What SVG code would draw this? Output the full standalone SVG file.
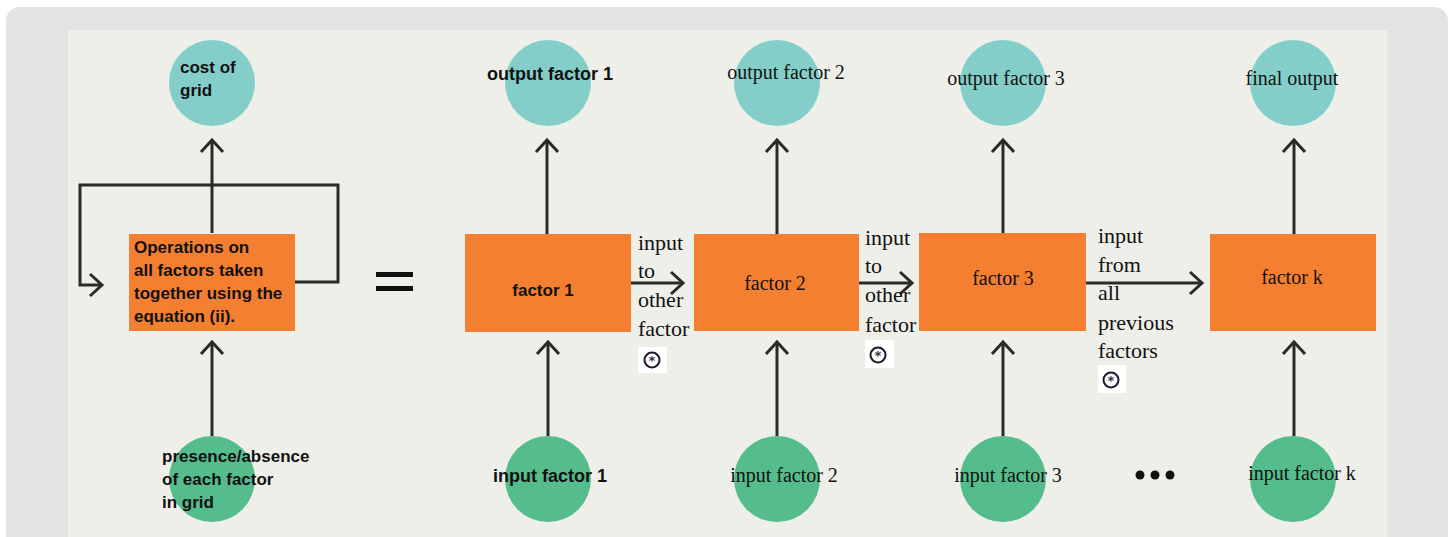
<svg xmlns="http://www.w3.org/2000/svg" width="1449" height="537" viewBox="0 0 1449 537">
<defs>
<style>
.out{fill:#84cec9}
.inp{fill:#55bd8c}
.box{fill:#f47f30}
.sb{font-family:"Liberation Sans",Arial,sans-serif;font-weight:bold;font-size:17px;fill:#111}
.sr{font-family:"Liberation Serif","Times New Roman",serif;font-size:20px;fill:#111}
.lb{font-family:"Liberation Serif","Times New Roman",serif;font-size:22px;fill:#111}
.c{text-anchor:middle}
.ln{fill:none;stroke:#2a2a2a;stroke-width:3}
.ring{fill:none;stroke:#1a1a2a;stroke-width:2}
.ast{font-family:"DejaVu Sans",sans-serif;font-size:13px;font-weight:bold;fill:#333;text-anchor:middle}
</style>
<marker id="ah" markerUnits="userSpaceOnUse" markerWidth="32" markerHeight="32" viewBox="0 0 32 32" refX="16" refY="16" orient="auto">
<path d="M4,5 L16,16 L4,27" fill="none" stroke="#2a2a2a" stroke-width="3"/>
</marker>
</defs>
<rect x="0" y="0" width="1449" height="537" fill="#ffffff"/>
<rect x="6" y="7" width="1442" height="560" rx="14" fill="#e3e3e3"/>
<rect x="68" y="30" width="1319" height="520" fill="#efefea"/>

<g id="connectors">
<path class="ln" d="M212,233 L212,140" marker-end="url(#ah)"/>
<path class="ln" d="M295,282 L338,282 L338,185 L80,185 L80,285 L102,285" marker-end="url(#ah)"/>
<path class="ln" d="M212,436 L212,342" marker-end="url(#ah)"/>
<path class="ln" d="M547,234 L547,140" marker-end="url(#ah)"/>
<path class="ln" d="M777,234 L777,140" marker-end="url(#ah)"/>
<path class="ln" d="M1003,233 L1003,140" marker-end="url(#ah)"/>
<path class="ln" d="M1294,234 L1294,140" marker-end="url(#ah)"/>
<path class="ln" d="M548,436 L548,342" marker-end="url(#ah)"/>
<path class="ln" d="M777,436 L777,342" marker-end="url(#ah)"/>
<path class="ln" d="M1003,436 L1003,342" marker-end="url(#ah)"/>
<path class="ln" d="M1294,436 L1294,342" marker-end="url(#ah)"/>
<path class="ln" d="M631,283 L683,283" marker-end="url(#ah)"/>
<path class="ln" d="M859,283 L912,283" marker-end="url(#ah)"/>
<path class="ln" d="M1086,283 L1202,283" marker-end="url(#ah)"/>
</g>

<g id="cost">
<circle class="out" cx="212" cy="83" r="43"/>
<text class="sb" x="180" y="73">cost of</text>
<text class="sb" x="180" y="96">grid</text>
</g>
<g id="operations">
<rect class="box" x="129" y="234" width="166" height="97"/>
<text class="sb" x="134" y="253">Operations on</text>
<text class="sb" x="134" y="276">all factors taken</text>
<text class="sb" x="134" y="299">together using the</text>
<text class="sb" x="134" y="322">equation (ii).</text>
</g>
<g id="presence">
<circle class="inp" cx="212" cy="479" r="43"/>
<text class="sb" x="162" y="462">presence/absence</text>
<text class="sb" x="162" y="485">of each factor</text>
<text class="sb" x="162" y="508">in grid</text>
</g>
<g id="equals">
<rect x="376" y="272" width="37" height="5" fill="#111"/>
<rect x="376" y="286" width="37" height="5" fill="#111"/>
</g>

<g id="out1">
<circle class="out" cx="548" cy="83" r="43"/>
<text class="sb c" x="550" y="80" style="font-size:18px">output factor 1</text>
</g>
<g id="factor1">
<rect class="box" x="465" y="234" width="166" height="98"/>
<text class="sb c" x="543" y="296">factor 1</text>
</g>
<g id="in1">
<circle class="inp" cx="548" cy="479" r="43"/>
<text class="sb c" x="550" y="482" style="font-size:18px">input factor 1</text>
</g>

<g id="out2">
<circle class="out" cx="777" cy="83" r="43"/>
<text class="sr c" x="786" y="79">output factor 2</text>
</g>
<g id="factor2">
<rect class="box" x="694" y="234" width="165" height="97"/>
<text class="sr c" x="775" y="290">factor 2</text>
</g>
<g id="in2">
<circle class="inp" cx="777" cy="479" r="43"/>
<text class="sr c" x="784" y="482">input factor 2</text>
</g>

<g id="out3">
<circle class="out" cx="1003" cy="83" r="43"/>
<text class="sr c" x="1006" y="85">output factor 3</text>
</g>
<g id="factor3">
<rect class="box" x="919" y="233" width="167" height="98"/>
<text class="sr c" x="1003" y="285">factor 3</text>
</g>
<g id="in3">
<circle class="inp" cx="1003" cy="479" r="43"/>
<text class="sr c" x="1008" y="482">input factor 3</text>
</g>

<g id="outk">
<circle class="out" cx="1293" cy="83" r="43"/>
<text class="sr c" x="1292" y="85">final output</text>
</g>
<g id="factork">
<rect class="box" x="1210" y="234" width="166" height="97"/>
<text class="sr c" x="1292" y="284">factor k</text>
</g>
<g id="ink">
<circle class="inp" cx="1293" cy="479" r="43"/>
<text class="sr c" x="1302" y="480">input factor k</text>
</g>

<g id="ellipsis">
<circle cx="1140" cy="475" r="4.5" fill="#111"/>
<circle cx="1155" cy="475" r="4.5" fill="#111"/>
<circle cx="1170" cy="475" r="4.5" fill="#111"/>
</g>

<g id="label1">
<text class="lb" x="638" y="250">input</text>
<text class="lb" x="638" y="278">to</text>
<text class="lb" x="638" y="307">other</text>
<text class="lb" x="638" y="336">factor</text>
<rect x="638" y="347" width="29" height="26" fill="#ffffff"/>
<circle class="ring" cx="652" cy="360" r="7.5"/>
<text class="ast" x="652" y="365">*</text>
</g>
<g id="label2">
<text class="lb" x="865" y="245">input</text>
<text class="lb" x="865" y="273">to</text>
<text class="lb" x="865" y="302">other</text>
<text class="lb" x="865" y="332">factor</text>
<rect x="865" y="340" width="29" height="28" fill="#ffffff"/>
<circle class="ring" cx="878" cy="355" r="7.5"/>
<text class="ast" x="878" y="360">*</text>
</g>
<g id="label3">
<text class="lb" x="1098" y="243">input</text>
<text class="lb" x="1098" y="272">from</text>
<text class="lb" x="1098" y="300">all</text>
<text class="lb" x="1098" y="330">previous</text>
<text class="lb" x="1098" y="358">factors</text>
<rect x="1098" y="365" width="28" height="28" fill="#ffffff"/>
<circle class="ring" cx="1111" cy="380" r="7.5"/>
<text class="ast" x="1111" y="385">*</text>
</g>
</svg>
